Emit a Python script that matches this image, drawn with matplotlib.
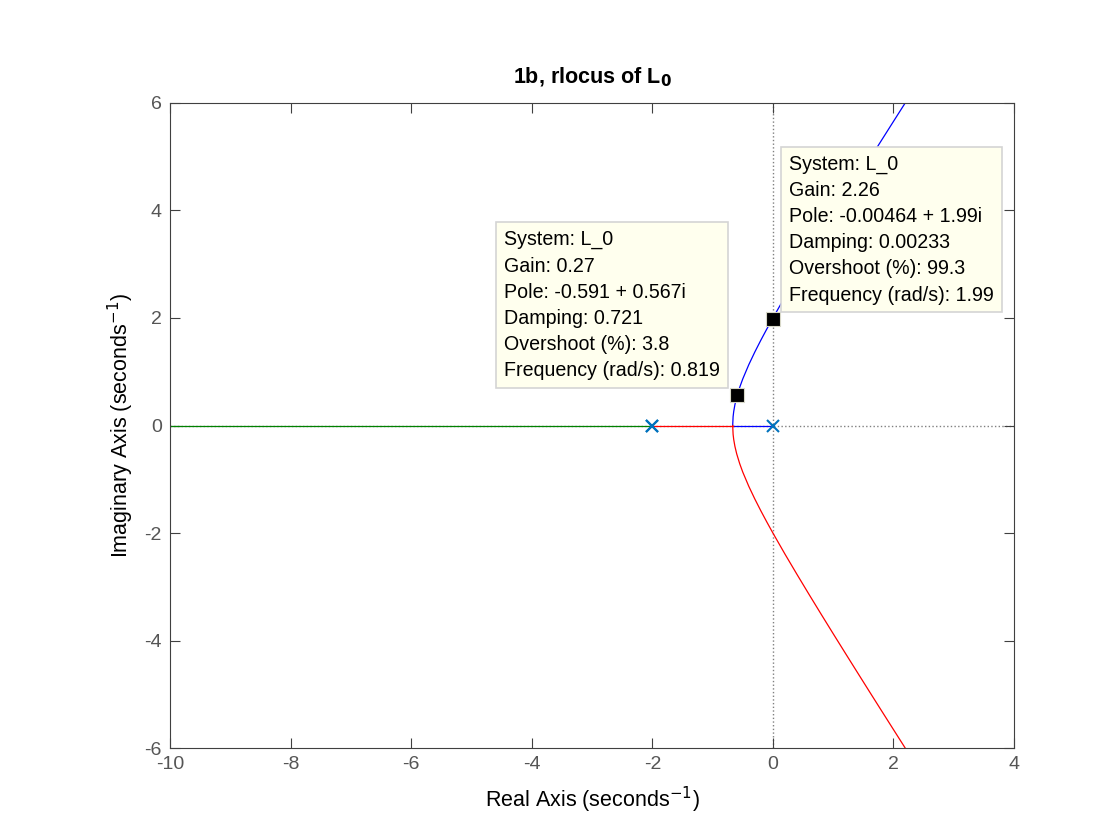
import matplotlib
matplotlib.use("Agg")
import matplotlib.pyplot as plt

plt.rcParams['font.family'] = ['Liberation Sans', 'DejaVu Sans']
plt.rcParams['axes.unicode_minus'] = False

# upper half of the complex branch, lower half is the conjugate
branch_re = [-0.667, -0.66, -0.65, -0.63, -0.6, -0.55, -0.5, -0.4, -0.3, -0.2, -0.1, 0.0,
             0.2, 0.4, 0.6, 0.8, 1.0, 1.2, 1.4, 1.6, 1.8, 2.0, 2.2, 2.3]
branch_im = [0.0, 0.164, 0.260, 0.388, 0.529, 0.712, 0.866, 1.131, 1.367, 1.587, 1.797, 2.0,
             2.392, 2.771, 3.143, 3.510, 3.873, 4.233, 4.591, 4.948, 5.303, 5.657, 6.010, 6.186]

# real-axis segments
blue_axis_re = [0.0, -0.667]
red_axis_re = [-2.0, -0.667]
green_axis_re = [-2.0, -12.0]

# open loop poles
pole_re = [0.0, -2.0, -2.0]
pole_im = [0.0, 0.0, 0.0]

# data tips
tip_re = [-0.591, -0.00464]
tip_im = [0.567, 1.99]
tip_text = [
    "System: L_0\nGain: 0.27\nPole: -0.591 + 0.567i\nDamping: 0.721\n"
    "Overshoot (%): 3.8\nFrequency (rad/s): 0.819",
    "System: L_0\nGain: 2.26\nPole: -0.00464 + 1.99i\nDamping: 0.00233\n"
    "Overshoot (%): 99.3\nFrequency (rad/s): 1.99",
]
tip_box_xy = [(-4.46, 3.63), (0.27, 5.04)]

fig = plt.figure(figsize=(11.2, 8.4), dpi=100)
ax = fig.add_axes([0.1518, 0.1095, 0.7536, 0.7679])

# axis lines (dotted)
ax.axvline(0, color='#808080', ls=':', lw=1.0, zorder=1)
ax.axhline(0, color='#808080', ls=':', lw=1.0, zorder=1)

ax.plot(blue_axis_re, [0, 0], color='blue', lw=0.9, zorder=2)
ax.plot(branch_re, branch_im, color='blue', lw=0.9, zorder=2)
ax.plot(red_axis_re, [0, 0], color='red', lw=0.9, zorder=2)
ax.plot(branch_re, [-v for v in branch_im], color='red', lw=0.9, zorder=2)
ax.plot(green_axis_re, [0, 0], color='#008000', lw=0.9, zorder=2)

ax.plot(pole_re, pole_im, 'x', color=(0, 0.447, 0.741), ms=9, mew=1.5, zorder=3)

ax.plot(tip_re, tip_im, 's', color='black', mec='#d8d8c8', ms=10, mew=0.8, zorder=5)

for (bx, by), txt in zip(tip_box_xy, tip_text):
    ax.text(bx, by, txt, ha='left', va='top', fontsize=14.1, linespacing=1.48,
            color='black', zorder=6,
            bbox=dict(boxstyle='square,pad=0.4', facecolor='#ffffee',
                      edgecolor='#d4d4d4', lw=1.2))

ax.set_xlim(-10, 4)
ax.set_ylim(-6, 6)
ax.set_xticks(range(-10, 5, 2))
ax.set_yticks(range(-6, 7, 2))
ax.tick_params(direction='in', length=7, width=0.8, top=True, right=True,
               labelsize=14, labelcolor='#555555', color='#404040', pad=6)
for sp in ax.spines.values():
    sp.set_color('#404040')
    sp.set_linewidth(0.8)

ax.set_title(r"1b, rlocus of L$_\mathbf{0}$", fontsize=15.5, fontweight='bold', pad=14)
ax.set_xlabel(r"Real Axis (seconds$^{-1}$)", fontsize=15.5, labelpad=8)
ax.set_ylabel(r"Imaginary Axis (seconds$^{-1}$)", fontsize=15.5, labelpad=6)

fig.savefig("out.png", dpi=100)
